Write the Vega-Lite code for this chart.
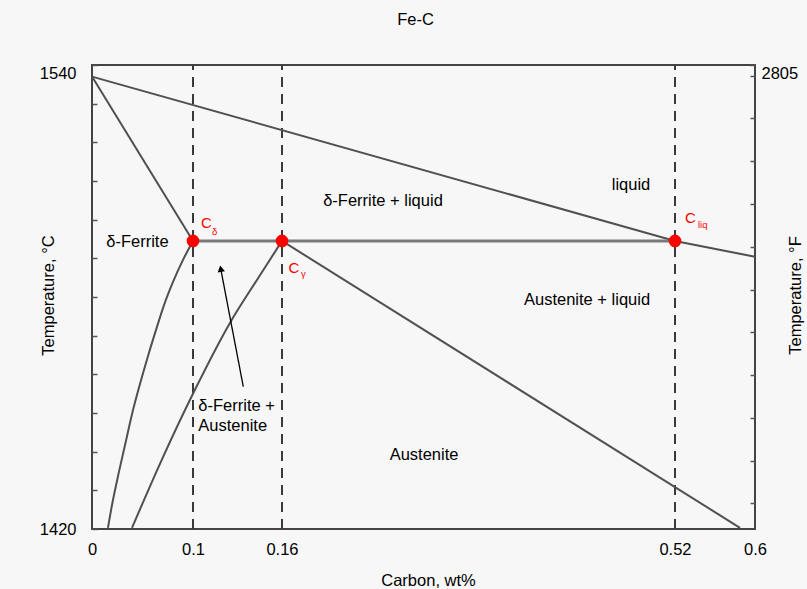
{
  "$schema": "https://vega.github.io/schema/vega-lite/v6.json",
  "width": 663,
  "height": 464,
  "autosize": {"type": "none"},
  "padding": {"left": 92, "top": 65, "right": 52, "bottom": 60},
  "background": "#f7f7f7",
  "title": {"text": "Fe-C", "offset": 36, "dx": -8, "anchor": "middle"},
  "config": {
    "font": "Liberation Sans",
    "view": {"stroke": "#444444", "strokeWidth": 2},
    "axis": {
      "labelFont": "Liberation Sans",
      "titleFont": "Liberation Sans",
      "labelColor": "#000000",
      "titleColor": "#000000",
      "labelFontSize": 16.5,
      "titleFontSize": 16.5,
      "titleFontWeight": "normal",
      "grid": false,
      "domain": false,
      "labelFlush": false
    },
    "title": {"font": "Liberation Sans", "fontSize": 16.5, "fontWeight": "normal", "color": "#000000"},
    "text": {"font": "Liberation Sans"}
  },
  "datasets": {
    "guides": [
      {"c": 0.1, "F0": 2588, "F1": 2805},
      {"c": 0.16, "F0": 2588, "F1": 2805},
      {"c": 0.52, "F0": 2588, "F1": 2805}
    ],
    "boundaries": [
      {"id": "liquidus", "c": 0, "T": 1537},
      {"id": "liquidus", "c": 0.52, "T": 1494.5},
      {"id": "liquidus", "c": 0.6, "T": 1490.4},
      {"id": "delta_solidus", "c": 0, "T": 1537},
      {"id": "delta_solidus", "c": 0.1, "T": 1494.5},
      {"id": "gamma_solidus", "c": 0.16, "T": 1494.5},
      {"id": "gamma_solidus", "c": 0.585, "T": 1420.3}
    ],
    "solvus": [
      {"id": "delta_solvus", "c": 0.1, "T": 1494.5},
      {"id": "delta_solvus", "c": 0.0901, "T": 1489.6},
      {"id": "delta_solvus", "c": 0.0802, "T": 1483.9},
      {"id": "delta_solvus", "c": 0.0713, "T": 1477.9},
      {"id": "delta_solvus", "c": 0.0634, "T": 1471.5},
      {"id": "delta_solvus", "c": 0.0554, "T": 1464.7},
      {"id": "delta_solvus", "c": 0.0475, "T": 1457.5},
      {"id": "delta_solvus", "c": 0.0396, "T": 1449.7},
      {"id": "delta_solvus", "c": 0.0327, "T": 1441.7},
      {"id": "delta_solvus", "c": 0.0257, "T": 1433.6},
      {"id": "delta_solvus", "c": 0.0198, "T": 1426.2},
      {"id": "delta_solvus", "c": 0.0158, "T": 1420.3},
      {"id": "gamma_solvus", "c": 0.16, "T": 1494.5},
      {"id": "gamma_solvus", "c": 0.1431, "T": 1484.4},
      {"id": "gamma_solvus", "c": 0.1249, "T": 1473.3},
      {"id": "gamma_solvus", "c": 0.1013, "T": 1456.0},
      {"id": "gamma_solvus", "c": 0.0703, "T": 1438.6},
      {"id": "gamma_solvus", "c": 0.0396, "T": 1420.3}
    ],
    "peritectic": [{"c0": 0.1, "c1": 0.52, "T": 1494.5}],
    "compositions": [
      {"name": "C_delta", "c": 0.1, "T": 1494.5},
      {"name": "C_gamma", "c": 0.16, "T": 1494.5},
      {"name": "C_liq", "c": 0.52, "T": 1494.5}
    ],
    "arrow": [{"c0": 0.1339, "T0": 1456.8, "c1": 0.1187, "T1": 1487.3}],
    "regions": [
      {"label": "δ-Ferrite", "c": 0.045, "T": 1494.1},
      {"label": "δ-Ferrite + liquid", "c": 0.2525, "T": 1504.8},
      {"label": "liquid", "c": 0.4797, "T": 1509.0},
      {"label": "Austenite + liquid", "c": 0.4394, "T": 1479.2},
      {"label": "Austenite", "c": 0.2901, "T": 1439.1}
    ],
    "twoPhase": [
      {"label": "δ-Ferrite +", "c": 0.1036, "T": 1451.9},
      {"label": "Austenite", "c": 0.1036, "T": 1446.6}
    ],
    "symbols": [
      {"label": "C", "c": 0.1054, "T": 1499.1},
      {"label": "C", "c": 0.166, "T": 1487.5},
      {"label": "C", "c": 0.53, "T": 1500.4}
    ],
    "subscripts": [
      {"label": "δ", "c": 0.1128, "T": 1496.8},
      {"label": "γ", "c": 0.1774, "T": 1486.0},
      {"label": "liq", "c": 0.543, "T": 1498.6}
    ]
  },
  "layer": [
    {
      "data": {"name": "guides"},
      "mark": {"type": "rule", "stroke": "#3a3a3a", "strokeWidth": 2, "strokeDash": [10, 7]},
      "encoding": {
        "x": {"field": "c", "type": "quantitative",
              "scale": {"domain": [0, 0.1, 0.16, 0.52, 0.6], "range": [0, 101, 190, 583, 663], "nice": false, "zero": false}},
        "y": {"field": "F0", "type": "quantitative",
              "scale": {"domain": [2588, 2805], "nice": false, "zero": false},
              "axis": {
                "orient": "right",
                "values": [2600, 2620, 2640, 2660, 2680, 2700, 2720, 2740, 2760, 2780, 2800, 2805],
                "tickCount": 30,
                "format": "d",
                "labelExpr": "datum.value == 2805 ? datum.label : ''",
                "labelBaseline": {"condition": {"test": "datum.value == 2805", "value": "top"}, "value": "middle"},
                "labelPadding": 11,
                "tickSize": -5,
                "tickColor": "#555555",
                "tickWidth": 1.5,
                "title": "Temperature, °F",
                "titleAngle": -90,
                "titleX": 40,
                "titleY": 230,
                "titleBaseline": "middle",
                "titleAlign": "center"
              }},
        "y2": {"field": "F1"}
      }
    },
    {
      "layer": [
        {
          "data": {"name": "boundaries"},
          "mark": {"type": "line", "stroke": "#505050", "strokeWidth": 2},
          "encoding": {
            "x": {"field": "c", "type": "quantitative",
                  "scale": {"domain": [0, 0.1, 0.16, 0.52, 0.6], "range": [0, 101, 190, 583, 663], "nice": false, "zero": false},
                  "axis": {
                    "values": [0, 0.1, 0.16, 0.52, 0.6],
                    "tickCount": 30,
                    "format": ".2~f",
                    "ticks": false,
                    "labelPadding": 12,
                    "title": "Carbon, wt%",
                    "titleX": 336,
                    "titleY": 51,
                    "titleBaseline": "middle",
                    "titleAlign": "center"
                  }},
            "y": {"field": "T", "type": "quantitative",
                  "scale": {"domain": [1420, 1540], "nice": false, "zero": false},
                  "axis": {
                    "orient": "left",
                    "values": [1420, 1430, 1440, 1450, 1460, 1470, 1480, 1490, 1500, 1510, 1520, 1530, 1540],
                    "tickCount": 30,
                    "format": "d",
                    "labelExpr": "datum.value == 1420 || datum.value == 1540 ? datum.label : ''",
                    "labelBaseline": {"condition": {"test": "datum.value == 1540", "value": "top"}, "value": "middle"},
                    "labelPadding": 21,
                    "tickSize": -5,
                    "tickColor": "#555555",
                    "tickWidth": 1.5,
                    "title": "Temperature, °C",
                    "titleAngle": -90,
                    "titleX": -44,
                    "titleY": 230,
                    "titleBaseline": "middle",
                    "titleAlign": "center"
                  }},
            "detail": {"field": "id", "type": "nominal"}
          }
        },
        {
          "data": {"name": "solvus"},
          "mark": {"type": "line", "stroke": "#505050", "strokeWidth": 2, "interpolate": "monotone"},
          "encoding": {
            "x": {"field": "c", "type": "quantitative",
                  "scale": {"domain": [0, 0.1, 0.16, 0.52, 0.6], "range": [0, 101, 190, 583, 663], "nice": false, "zero": false}},
            "y": {"field": "T", "type": "quantitative",
                  "scale": {"domain": [1420, 1540], "nice": false, "zero": false}},
            "detail": {"field": "id", "type": "nominal"}
          }
        },
        {
          "data": {"name": "peritectic"},
          "mark": {"type": "rule", "stroke": "#7a7a7a", "strokeWidth": 3},
          "encoding": {
            "x": {"field": "c0", "type": "quantitative",
                  "scale": {"domain": [0, 0.1, 0.16, 0.52, 0.6], "range": [0, 101, 190, 583, 663], "nice": false, "zero": false}},
            "x2": {"field": "c1"},
            "y": {"field": "T", "type": "quantitative",
                  "scale": {"domain": [1420, 1540], "nice": false, "zero": false}}
          }
        },
        {
          "data": {"name": "arrow"},
          "mark": {"type": "rule", "stroke": "#000000", "strokeWidth": 1.3},
          "encoding": {
            "x": {"field": "c0", "type": "quantitative",
                  "scale": {"domain": [0, 0.1, 0.16, 0.52, 0.6], "range": [0, 101, 190, 583, 663], "nice": false, "zero": false}},
            "x2": {"field": "c1"},
            "y": {"field": "T0", "type": "quantitative",
                  "scale": {"domain": [1420, 1540], "nice": false, "zero": false}},
            "y2": {"field": "T1"}
          }
        },
        {
          "data": {"name": "arrow"},
          "mark": {"type": "point", "shape": "triangle-up", "filled": true, "fill": "#000000", "size": 55, "angle": -10.8, "opacity": 1},
          "encoding": {
            "x": {"field": "c1", "type": "quantitative",
                  "scale": {"domain": [0, 0.1, 0.16, 0.52, 0.6], "range": [0, 101, 190, 583, 663], "nice": false, "zero": false}},
            "y": {"field": "T1", "type": "quantitative",
                  "scale": {"domain": [1420, 1540], "nice": false, "zero": false}}
          }
        },
        {
          "data": {"name": "compositions"},
          "mark": {"type": "circle", "fill": "#ff0000", "size": 160, "opacity": 1},
          "encoding": {
            "x": {"field": "c", "type": "quantitative",
                  "scale": {"domain": [0, 0.1, 0.16, 0.52, 0.6], "range": [0, 101, 190, 583, 663], "nice": false, "zero": false}},
            "y": {"field": "T", "type": "quantitative",
                  "scale": {"domain": [1420, 1540], "nice": false, "zero": false}}
          }
        },
        {
          "data": {"name": "regions"},
          "mark": {"type": "text", "fontSize": 16.5, "color": "#000000", "align": "center", "baseline": "middle"},
          "encoding": {
            "x": {"field": "c", "type": "quantitative",
                  "scale": {"domain": [0, 0.1, 0.16, 0.52, 0.6], "range": [0, 101, 190, 583, 663], "nice": false, "zero": false}},
            "y": {"field": "T", "type": "quantitative",
                  "scale": {"domain": [1420, 1540], "nice": false, "zero": false}},
            "text": {"field": "label"}
          }
        },
        {
          "data": {"name": "twoPhase"},
          "mark": {"type": "text", "fontSize": 16.5, "color": "#000000", "align": "left", "baseline": "middle"},
          "encoding": {
            "x": {"field": "c", "type": "quantitative",
                  "scale": {"domain": [0, 0.1, 0.16, 0.52, 0.6], "range": [0, 101, 190, 583, 663], "nice": false, "zero": false}},
            "y": {"field": "T", "type": "quantitative",
                  "scale": {"domain": [1420, 1540], "nice": false, "zero": false}},
            "text": {"field": "label"}
          }
        },
        {
          "data": {"name": "symbols"},
          "mark": {"type": "text", "fontSize": 15, "color": "#ff0000", "align": "left", "baseline": "middle"},
          "encoding": {
            "x": {"field": "c", "type": "quantitative",
                  "scale": {"domain": [0, 0.1, 0.16, 0.52, 0.6], "range": [0, 101, 190, 583, 663], "nice": false, "zero": false}},
            "y": {"field": "T", "type": "quantitative",
                  "scale": {"domain": [1420, 1540], "nice": false, "zero": false}},
            "text": {"field": "label"}
          }
        },
        {
          "data": {"name": "subscripts"},
          "mark": {"type": "text", "fontSize": 9.5, "color": "#ff0000", "align": "left", "baseline": "middle"},
          "encoding": {
            "x": {"field": "c", "type": "quantitative",
                  "scale": {"domain": [0, 0.1, 0.16, 0.52, 0.6], "range": [0, 101, 190, 583, 663], "nice": false, "zero": false}},
            "y": {"field": "T", "type": "quantitative",
                  "scale": {"domain": [1420, 1540], "nice": false, "zero": false}},
            "text": {"field": "label"}
          }
        }
      ]
    }
  ],
  "resolve": {"scale": {"y": "independent"}, "axis": {"y": "independent"}}
}
